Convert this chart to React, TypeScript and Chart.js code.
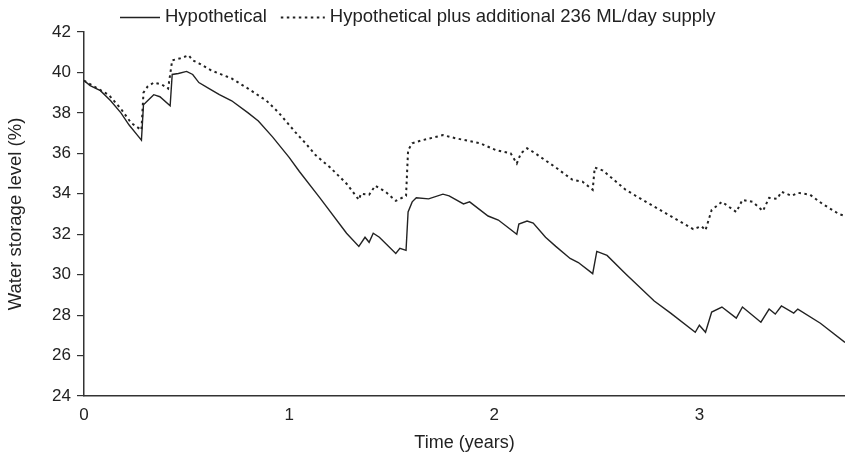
import React, { useEffect, useRef } from "react";
import { Chart, registerables } from "chart.js";

Chart.register(...registerables);

const hypTime = [0, 0.03, 0.08, 0.13, 0.18, 0.22, 0.26, 0.28, 0.29, 0.31, 0.34, 0.37, 0.42, 0.43, 0.46, 0.5, 0.53, 0.56, 0.61, 0.66, 0.72, 0.8, 0.85, 0.92, 1.0, 1.05, 1.15, 1.28, 1.34, 1.37, 1.39, 1.41, 1.44, 1.52, 1.54, 1.57, 1.58, 1.6, 1.62, 1.68, 1.75, 1.78, 1.85, 1.88, 1.97, 2.02, 2.11, 2.12, 2.16, 2.19, 2.25, 2.3, 2.37, 2.41, 2.48, 2.5, 2.55, 2.64, 2.78, 2.86, 2.98, 3.0, 3.03, 3.06, 3.11, 3.18, 3.21, 3.3, 3.34, 3.37, 3.4, 3.46, 3.48, 3.59, 3.71];
const hypLevel = [39.6, 39.35, 39.1, 38.6, 38.0, 37.4, 36.9, 36.65, 38.4, 38.6, 38.9, 38.8, 38.35, 39.9, 39.95, 40.05, 39.9, 39.5, 39.2, 38.9, 38.6, 38.0, 37.6, 36.8, 35.8, 35.1, 33.8, 32.05, 31.4, 31.85, 31.6, 32.05, 31.85, 31.05, 31.3, 31.2, 33.1, 33.6, 33.8, 33.75, 33.98, 33.9, 33.5, 33.6, 32.9, 32.7, 32.0, 32.5, 32.65, 32.55, 31.85, 31.4, 30.8, 30.6, 30.05, 31.15, 30.95, 30.05, 28.7, 28.1, 27.15, 27.5, 27.15, 28.15, 28.4, 27.85, 28.4, 27.65, 28.3, 28.05, 28.45, 28.1, 28.3, 27.6, 26.65];

const supTime = [0, 0.05, 0.12, 0.18, 0.23, 0.28, 0.29, 0.31, 0.34, 0.38, 0.41, 0.43, 0.47, 0.51, 0.53, 0.56, 0.62, 0.72, 0.8, 0.89, 0.95, 1.03, 1.08, 1.13, 1.2, 1.28, 1.34, 1.35, 1.39, 1.42, 1.47, 1.52, 1.57, 1.58, 1.6, 1.65, 1.75, 1.81, 1.93, 2.01, 2.08, 2.11, 2.13, 2.16, 2.2, 2.25, 2.3, 2.38, 2.43, 2.48, 2.49, 2.53, 2.64, 2.74, 2.85, 2.97, 3.01, 3.03, 3.06, 3.11, 3.18, 3.21, 3.26, 3.31, 3.34, 3.38, 3.4, 3.45, 3.48, 3.54, 3.6, 3.68, 3.71];
const supLevel = [39.6, 39.3, 38.9, 38.2, 37.5, 37.15, 39.0, 39.3, 39.5, 39.4, 39.2, 40.6, 40.7, 40.85, 40.6, 40.45, 40.1, 39.7, 39.2, 38.6, 38.0, 37.05, 36.5, 35.9, 35.3, 34.5, 33.7, 34.0, 33.95, 34.4, 34.1, 33.65, 33.9, 36.15, 36.5, 36.65, 36.9, 36.75, 36.5, 36.15, 36.0, 35.5, 36.0, 36.25, 36.0, 35.65, 35.3, 34.7, 34.6, 34.2, 35.3, 35.15, 34.2, 33.6, 32.95, 32.25, 32.4, 32.2, 33.2, 33.6, 33.1, 33.7, 33.6, 33.15, 33.8, 33.75, 34.1, 33.9, 34.05, 33.95, 33.5, 33.0, 32.9];

const seriesNames = ["Hypothetical", "Hypothetical plus additional 236 ML/day supply"];
const xTicks = [0, 1, 2, 3];
const xMax = 3.71;
const yMin = 24;
const yMax = 42;
const yStep = 2;
const xTitle = "Time (years)";
const yTitle = "Water storage level (%)";

const FONT = '"Liberation Sans", Arial, Helvetica, sans-serif';
const INK = "#222";

const legendPlugin = {
  id: "customLegend",
  afterDraw(chart: any) {
    const ctx = chart.ctx;
    const y = 17;
    ctx.save();
    ctx.font = `18.5px ${FONT}`;
    ctx.fillStyle = INK;
    ctx.textBaseline = "middle";
    let x = 120;
    chart.data.datasets.forEach((ds: any, i: number) => {
      const len = i === 0 ? 40 : 44;
      ctx.beginPath();
      ctx.strokeStyle = ds.borderColor;
      ctx.lineWidth = ds.borderWidth;
      ctx.setLineDash(ds.borderDash || []);
      ctx.moveTo(x, y + 0.5);
      ctx.lineTo(x + len, y + 0.5);
      ctx.stroke();
      ctx.setLineDash([]);
      x += len + 5;
      ctx.fillText(ds.label, x, y);
      x += ctx.measureText(ds.label).width + 14;
    });
    ctx.restore();
  },
};

export default function App() {
  const ref = useRef<HTMLCanvasElement | null>(null);
  useEffect(() => {
    document.body.style.margin = "0";
    const canvas = ref.current;
    if (!canvas) return;
    const chart = new Chart(canvas, {
      type: "line",
      data: {
        datasets: [
          {
            label: seriesNames[0],
            data: hypTime.map((t, i) => ({ x: t, y: hypLevel[i] })),
            borderColor: INK,
            borderWidth: 1.4,
            pointRadius: 0,
            tension: 0,
            fill: false,
          },
          {
            label: seriesNames[1],
            data: supTime.map((t, i) => ({ x: t, y: supLevel[i] })),
            borderColor: INK,
            borderWidth: 2,
            borderDash: [2.5, 3.5],
            pointRadius: 0,
            tension: 0,
            fill: false,
          },
        ],
      },
      options: {
        responsive: false,
        animation: false,
        layout: { padding: { top: 32, right: 0, left: 0, bottom: 0 } },
        plugins: { legend: { display: false }, tooltip: { enabled: false } },
        scales: {
          x: {
            type: "linear",
            min: 0,
            max: xMax,
            afterBuildTicks: (s: any) => {
              s.ticks = xTicks.map((v) => ({ value: v }));
            },
            afterFit: (s: any) => {
              s.height = 57;
            },
            grid: { display: false, drawTicks: false },
            border: { display: true, color: "#333", width: 1.5 },
            ticks: { color: INK, padding: 9, font: { family: FONT, size: 17 }, maxRotation: 0 },
            title: {
              display: true,
              text: xTitle,
              color: INK,
              font: { family: FONT, size: 18 },
              padding: { top: 0, bottom: -1 },
            },
          },
          y: {
            min: yMin,
            max: yMax,
            ticks: { stepSize: yStep, color: INK, padding: 6, font: { family: FONT, size: 17 } },
            afterFit: (s: any) => {
              s.width = 84;
            },
            grid: { drawOnChartArea: false, drawTicks: true, tickLength: 7, color: "#333", lineWidth: 1.2 },
            border: { display: true, color: "#333", width: 1.5 },
            title: {
              display: true,
              text: yTitle,
              color: INK,
              font: { family: FONT, size: 18.5 },
              padding: { top: 5, bottom: 0 },
            },
          },
        },
      },
      plugins: [legendPlugin],
    });
    return () => chart.destroy();
  }, []);
  return (
    <div style={{ width: 845, height: 453, background: "#fff" }}>
      <canvas ref={ref} width={845} height={453} />
    </div>
  );
}
